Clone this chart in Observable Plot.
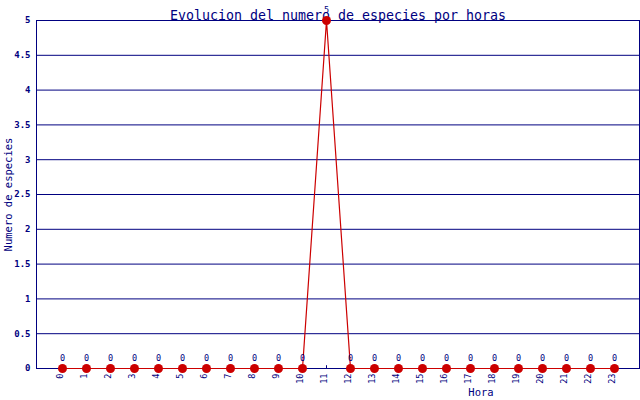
<!DOCTYPE html>
<html>
<head>
<meta charset="utf-8">
<script src="https://cdn.jsdelivr.net/npm/d3@7"></script>
<script src="https://cdn.jsdelivr.net/npm/@observablehq/plot@0.6"></script>
<style>
  html, body { margin: 0; padding: 0; background: #fff; }
  svg { display: block; }
</style>
</head>
<body>
<div id="chart"></div>
<script>
const title = "Evolucion del numero de especies por horas";
const xLabel = "Hora";
const yLabel = "Numero de especies";
const hours = [0,1,2,3,4,5,6,7,8,9,10,11,12,13,14,15,16,17,18,19,20,21,22,23];
const species = [0,0,0,0,0,0,0,0,0,0,0,5,0,0,0,0,0,0,0,0,0,0,0,0];
const yTicks = [0,0.5,1,1.5,2,2.5,3,3.5,4,4.5,5];

const data = hours.map((h, i) => ({hora: h, n: species[i]}));
const navy = "#000080";
const red = "#cc0000";
const mono = "DejaVu Sans Mono, monospace";

const chart = Plot.plot({
  width: 640,
  height: 400,
  marginLeft: 36,
  marginRight: 1,
  marginTop: 20,
  marginBottom: 32,
  style: {fontFamily: mono, background: "#fff"},
  x: {type: "point", domain: hours, padding: 1, axis: null},
  y: {domain: [0, 5]},
  marks: [
    Plot.gridY(yTicks, {stroke: navy, strokeOpacity: 1, strokeWidth: 1}),
    Plot.frame({stroke: navy, strokeWidth: 1}),
    Plot.ruleX(hours, {x: d => d, y1: 0, y2: 0.04, stroke: navy}),
    Plot.axisY({ticks: yTicks, tickSize: 0, tickPadding: 6, tickFormat: d => String(d),
      fill: navy, fontSize: 9, fontWeight: "bold", label: null}),
    Plot.text(hours, {x: d => d, frameAnchor: "bottom", dy: 5, rotate: -90,
      textAnchor: "end", text: d => String(d), fill: navy, fontSize: 8.5, fontFamily: mono}),
    Plot.text([yLabel], {frameAnchor: "left", textAnchor: "middle", dx: -28, rotate: -90,
      fill: navy, fontSize: 10.5, fontFamily: mono}),
    Plot.text([xLabel], {frameAnchor: "bottom", textAnchor: "middle", dx: 143, dy: 27,
      fill: navy, fontSize: 10.5, fontFamily: mono}),
    Plot.text([title], {frameAnchor: "top", dy: -10, fill: navy, fontSize: 13.3,
      fontFamily: mono}),
    Plot.line(data, {x: "hora", y: "n", stroke: red, strokeWidth: 1.2}),
    Plot.dot(data, {x: "hora", y: "n", r: 4.5, fill: red, stroke: "none"}),
    Plot.text(data, {x: "hora", y: "n", text: d => String(d.n), dy: -10,
      fill: navy, fontSize: 8.5, fontFamily: mono})
  ]
});
document.getElementById("chart").append(chart);
</script>
</body>
</html>
